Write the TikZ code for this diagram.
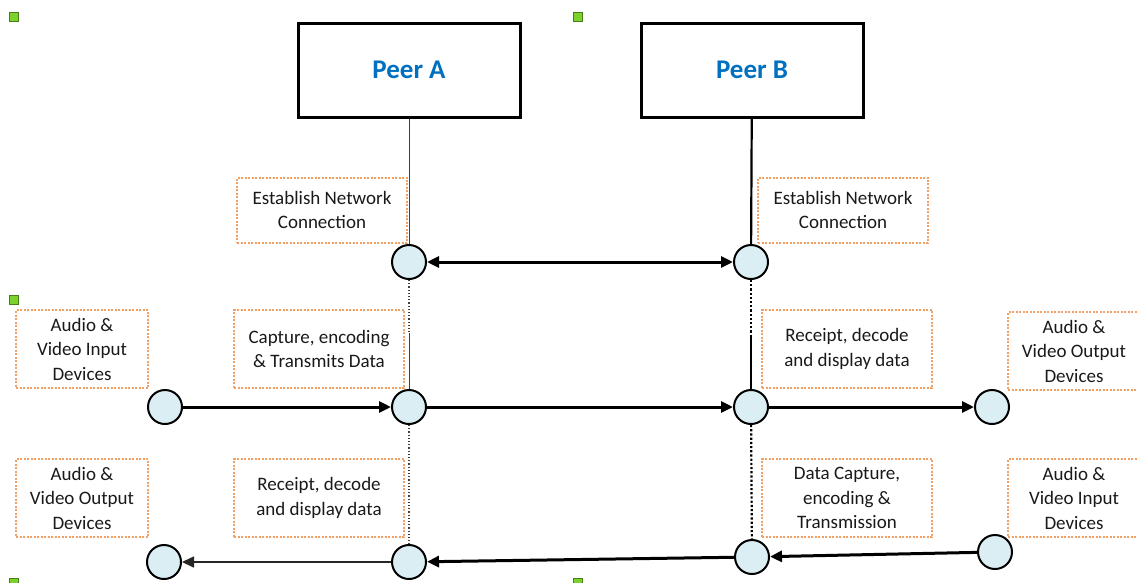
\documentclass[tikz,border=0pt]{standalone}
\usepackage{fontspec}
\setmainfont{Carlito}
\usetikzlibrary{arrows.meta}
\definecolor{peerblue}{RGB}{0,112,192}
\definecolor{noteorange}{RGB}{242,160,100}
\definecolor{portfill}{RGB}{218,238,243}
\definecolor{handlegreen}{RGB}{124,210,44}
\begin{document}
\begin{tikzpicture}[x=1pt, y=-1pt,
    peer/.style={draw, line width=3pt, minimum width=222pt, minimum height=94pt,
        text=peerblue, font=\fontsize{27}{32}\selectfont\bfseries},
    note/.style={draw=noteorange, line width=2pt, dash pattern=on 2pt off 1.5pt,
        minimum width=170pt, minimum height=65pt, align=center, inner sep=2pt,
        text=black!90, font=\fontsize{19}{24.5}\selectfont},
    dev/.style={note, minimum width=132pt, minimum height=78pt},
    port/.style={circle, draw, line width=2pt, fill=portfill, minimum size=34pt, inner sep=0pt},
    flow/.style={line width=3pt, -{Triangle[length=12pt, width=11pt]}},
    handle/.style={fill=handlegreen, draw=handlegreen!60!black, line width=0.8pt}]
    \useasboundingbox (0,0) rectangle (1137,582);
    \clip (0,0) rectangle (1137,582);
    % selection handles
    \foreach \hx/\hy in {14/17, 578/17, 14/300, 14/583, 578/583}
        \filldraw[handle] (\hx-4.5,\hy-4.5) rectangle ++(9,9);
    % peers
    \node[peer] (peerA) at (409,70) {Peer A};
    \node[peer] (peerB) at (752,70) {Peer B};
    % notes
    \node[note] (estA) at (322,210) {Establish Network\\Connection};
    \node[note] (estB) at (843,210) {Establish Network\\Connection};
    \node[dev] (inLtxt) at (82,349) {Audio \&\\Video Input\\Devices};
    \node[note, minimum height=78pt] (capA) at (319,349) {Capture, encoding\\\& Transmits Data};
    \node[note, minimum height=78pt] (recB) at (847,349) {Receipt, decode\\and display data};
    \node[dev] (outRtxt) at (1074,351) {Audio \&\\Video Output\\Devices};
    \node[dev] (outLtxt) at (82,498) {Audio \&\\Video Output\\Devices};
    \node[note, minimum height=78pt] (recA) at (319,498) {Receipt, decode\\and display data};
    \node[note, minimum height=78pt] (capB) at (847,498) {Data Capture,\\encoding \&\\Transmission};
    \node[dev] (inRtxt) at (1074,498) {Audio \&\\Video Input\\Devices};
    % ports
    \node[port] (a1) at (409,262) {};
    \node[port] (b1) at (751,262) {};
    \node[port] (inL) at (165,407) {};
    \node[port] (a2) at (409,407) {};
    \node[port] (b2) at (751,407) {};
    \node[port] (outR) at (992,407) {};
    \node[port] (outL) at (164,562) {};
    \node[port] (a3) at (409,562) {};
    \node[port] (b3) at (752,557) {};
    \node[port] (inR) at (995,552) {};
    \coordinate (aSplit) at (409,333);
    \coordinate (bSplit) at (751,337);
    % life lines
    \draw[line width=1pt, black!75] (peerA) -- (a1);
    \draw[line width=1.2pt, black!75, dotted] (a1) -- (aSplit);
    \draw[line width=1pt, black!75] (aSplit) -- (a2);
    \draw[line width=1.2pt, black!75, dotted] (a2) -- (a3);
    \draw[line width=2.2pt] (peerB) -- (b1);
    \draw[line width=2.2pt, dotted] (b1) -- (bSplit);
    \draw[line width=2.2pt] (bSplit) -- (b2);
    \draw[line width=2.2pt, dotted] (b2) -- (b3);
    % data flows
    \draw[flow, {Triangle[length=12pt, width=11pt]}-{Triangle[length=12pt, width=11pt]}] (a1) -- (b1);
    \draw[flow] (inL) -- (a2);
    \draw[flow] (a2) -- (b2);
    \draw[flow] (b2) -- (outR);
    \draw[flow] (inR) -- (b3);
    \draw[flow] (b3) -- (a3);
    \draw[flow, line width=1.6pt, black!85] (a3) -- (outL);
\end{tikzpicture}
\end{document}
